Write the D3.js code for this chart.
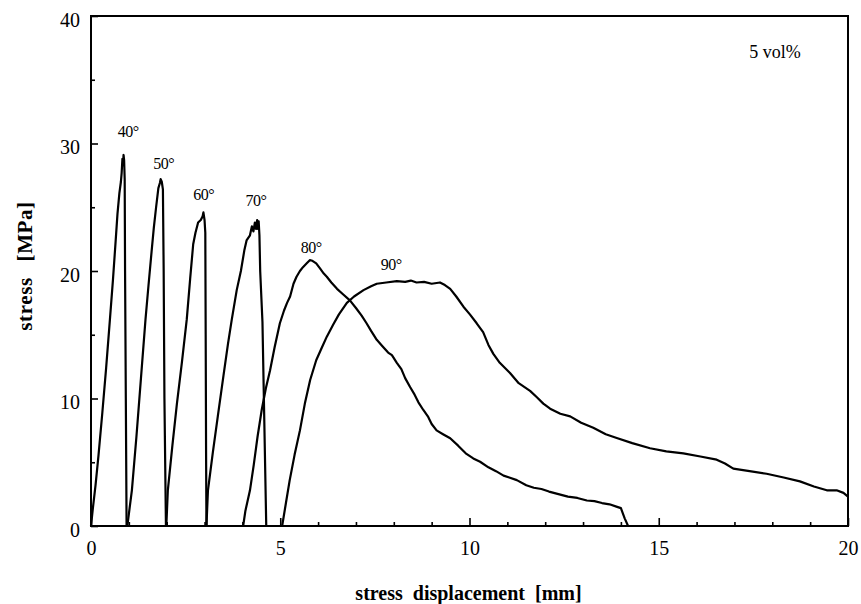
<!DOCTYPE html>
<html>
<head>
<meta charset="utf-8">
<script src="https://cdn.jsdelivr.net/npm/d3@7"></script>
<style>
  body { margin: 0; background: #fff; }
  svg { display: block; font-family: "Liberation Serif", "Times New Roman", serif; }
</style>
</head>
<body>
<div id="chart"></div>
<script>
// stress-displacement curves, [displacement mm, stress MPa]
const curve40 = [[0,0],[0.05,1.4],[0.12,3.2],[0.2,5.6],[0.3,8.9],[0.4,12.4],[0.5,16.2],[0.58,19.3],[0.65,22.3],[0.7,24.5],[0.75,26.1],[0.79,27.0],[0.81,27.7],[0.83,28.8],[0.845,28.3],[0.86,29.1],[0.875,28.7],[0.89,27.2],[0.9,20],[0.92,10],[0.94,0]];
const curve50 = [[0.96,0],[1.02,1.4],[1.08,2.8],[1.2,7.0],[1.32,11.6],[1.44,16.2],[1.52,18.9],[1.6,21.5],[1.66,23.4],[1.72,25.0],[1.78,26.5],[1.82,26.9],[1.84,27.2],[1.87,27.0],[1.9,26.4],[1.92,20],[1.94,10],[1.98,0]];
const curve60 = [[1.99,0],[2.03,2.8],[2.15,6.3],[2.27,9.6],[2.4,12.8],[2.53,16.2],[2.62,19.4],[2.7,22.1],[2.76,23.0],[2.83,23.8],[2.9,24.0],[2.95,24.3],[2.97,24.6],[3.0,24.0],[3.02,23.0],[3.03,15],[3.04,6],[3.05,0]];
const curve70 = [[3.05,0],[3.09,2.8],[3.22,5.8],[3.35,8.6],[3.5,11.8],[3.62,14.3],[3.72,16.2],[3.85,18.5],[3.96,20.0],[4.05,21.6],[4.11,22.4],[4.2,22.8],[4.25,23.5],[4.29,23.1],[4.33,23.8],[4.36,23.3],[4.39,24.0],[4.41,23.3],[4.43,23.9],[4.45,22.8],[4.47,20.0],[4.53,16.0],[4.58,8.0],[4.63,0]];
const curve80 = [[4.02,0],[4.08,1.2],[4.2,2.8],[4.3,4.8],[4.4,7.0],[4.51,9.1],[4.62,10.8],[4.73,12.2],[4.85,14.0],[4.99,15.9],[5.1,16.9],[5.18,17.5],[5.26,18.0],[5.35,19.0],[5.43,19.55],[5.52,20.0],[5.6,20.3],[5.7,20.6],[5.78,20.85],[5.85,20.8],[5.95,20.6],[6.05,20.2],[6.15,19.8],[6.23,19.55],[6.35,19.1],[6.5,18.6],[6.65,18.2],[6.84,17.7],[7.0,17.1],[7.15,16.5],[7.28,15.9],[7.4,15.3],[7.55,14.6],[7.7,14.1],[7.85,13.6],[7.95,13.4],[8.08,12.8],[8.2,12.3],[8.3,11.6],[8.43,10.9],[8.55,10.3],[8.65,9.7],[8.78,9.1],[8.9,8.6],[9.0,8.0],[9.13,7.5],[9.3,7.2],[9.49,6.88],[9.7,6.3],[9.9,5.7],[10.1,5.3],[10.28,5.04],[10.5,4.6],[10.7,4.3],[10.9,3.95],[11.05,3.8],[11.25,3.6],[11.5,3.2],[11.7,3.0],[11.9,2.9],[12.1,2.7],[12.35,2.5],[12.6,2.3],[12.85,2.2],[13.1,2.0],[13.3,1.95],[13.5,1.8],[13.7,1.7],[13.9,1.5],[14.0,1.4],[14.1,0.6],[14.19,0]];
const curve90 = [[5.05,0],[5.15,1.8],[5.25,3.6],[5.38,5.6],[5.52,7.5],[5.65,9.6],[5.79,11.45],[5.95,13.0],[6.1,14.0],[6.23,14.85],[6.4,15.8],[6.55,16.6],[6.76,17.5],[6.95,18.0],[7.2,18.5],[7.4,18.8],[7.55,19.0],[7.8,19.1],[8.08,19.2],[8.3,19.15],[8.45,19.25],[8.6,19.1],[8.8,19.15],[9.0,19.0],[9.22,19.1],[9.35,18.9],[9.49,18.6],[9.65,18.0],[9.84,17.2],[10.01,16.6],[10.19,15.9],[10.36,15.2],[10.5,14.2],[10.63,13.5],[10.8,12.8],[11.07,12.0],[11.3,11.2],[11.6,10.6],[11.78,10.1],[11.95,9.6],[12.13,9.2],[12.4,8.8],[12.66,8.6],[12.95,8.1],[13.27,7.7],[13.6,7.2],[13.89,6.9],[14.3,6.5],[14.77,6.1],[15.2,5.85],[15.65,5.7],[16.1,5.45],[16.53,5.2],[16.75,4.9],[16.97,4.5],[17.4,4.3],[17.85,4.1],[18.3,3.8],[18.73,3.5],[19.1,3.1],[19.44,2.8],[19.7,2.8],[19.88,2.6],[20,2.3]];

const curves = [curve40, curve50, curve60, curve70, curve80, curve90];

// angle labels, placed in data units
const angleLabels = ['40°', '50°', '60°', '70°', '80°', '90°'];
const labelX = [0.98, 1.92, 2.98, 4.36, 5.82, 7.93];
const labelY = [30.5, 28.0, 25.6, 25.1, 21.4, 20.1];

const xTicks = [0, 5, 10, 15, 20];
const yTicks = [0, 10, 20, 30, 40];

const W = 861, H = 604;
const margin = { top: 16, right: 13, bottom: 78, left: 91 };

const svg = d3.select('#chart').append('svg')
  .attr('width', W)
  .attr('height', H);

const x = d3.scaleLinear().domain([0, 20]).range([margin.left, W - margin.right]);
const y = d3.scaleLinear().domain([0, 40]).range([H - margin.bottom, margin.top]);

// minor ticks
svg.append('g')
  .attr('transform', `translate(0,${y(0)})`)
  .call(d3.axisBottom(x).tickValues(d3.range(1, 20).filter(d => d % 5 !== 0)).tickSize(-4).tickFormat(''))
  .call(g => g.select('.domain').remove())
  .selectAll('line').attr('stroke-width', 1.6);

svg.append('g')
  .attr('transform', `translate(${x(0)},0)`)
  .call(d3.axisLeft(y).tickValues([5, 15, 25, 35]).tickSize(-4).tickFormat(''))
  .call(g => g.select('.domain').remove())
  .selectAll('line').attr('stroke-width', 1.6);

// major ticks + labels
const xAxis = svg.append('g')
  .attr('transform', `translate(0,${y(0)})`)
  .call(d3.axisBottom(x).tickValues(xTicks).tickSize(-8).tickPadding(15).tickFormat(d3.format('d')));
xAxis.select('.domain').remove();
xAxis.selectAll('line').attr('stroke-width', 1.6);
xAxis.selectAll('text')
  .style('font-size', '20px')
  .style('font-family', '"Liberation Serif", serif')
  .attr('fill', '#000');

const yAxis = svg.append('g')
  .attr('transform', `translate(${x(0)},0)`)
  .call(d3.axisLeft(y).tickValues(yTicks).tickSize(-7).tickPadding(11).tickFormat(d3.format('d')));
yAxis.select('.domain').remove();
yAxis.selectAll('line').attr('stroke-width', 1.6);
yAxis.selectAll('text')
  .attr('dy', '0.5em')
  .style('font-size', '20px')
  .style('font-family', '"Liberation Serif", serif')
  .attr('fill', '#000');

// frame
svg.append('rect')
  .attr('x', x(0))
  .attr('y', y(40))
  .attr('width', x(20) - x(0))
  .attr('height', y(0) - y(40))
  .attr('fill', 'none')
  .attr('stroke', '#000')
  .attr('stroke-width', 2);

// curves
const line = d3.line()
  .x(d => x(d[0]))
  .y(d => y(d[1]));

svg.selectAll('.curve')
  .data(curves)
  .enter()
  .append('path')
  .attr('class', 'curve')
  .attr('d', line)
  .attr('fill', 'none')
  .attr('stroke', '#000')
  .attr('stroke-width', 2.2)
  .attr('stroke-linejoin', 'round');

// angle labels
svg.selectAll('.angle')
  .data(angleLabels)
  .enter()
  .append('text')
  .attr('class', 'angle')
  .attr('x', (d, i) => x(labelX[i]))
  .attr('y', (d, i) => y(labelY[i]))
  .attr('text-anchor', 'middle')
  .style('font-size', '16px')
  .style('letter-spacing', '-0.5px')
  .text(d => d);

svg.append('text')
  .attr('x', 775)
  .attr('y', 58)
  .attr('text-anchor', 'middle')
  .style('font-size', '18px')
  .text('5 vol%');

// axis titles
svg.append('text')
  .attr('x', x(10) - 1)
  .attr('y', 600)
  .attr('text-anchor', 'middle')
  .style('font-size', '20px')
  .style('font-weight', 'bold')
  .style('word-spacing', '5px')
  .text('stress displacement [mm]');

svg.append('text')
  .attr('transform', 'translate(32,266) rotate(-90)')
  .attr('text-anchor', 'middle')
  .style('font-size', '21px')
  .style('font-weight', 'bold')
  .style('word-spacing', '10px')
  .style('letter-spacing', '0.6px')
  .text('stress [MPa]');
</script>
</body>
</html>
